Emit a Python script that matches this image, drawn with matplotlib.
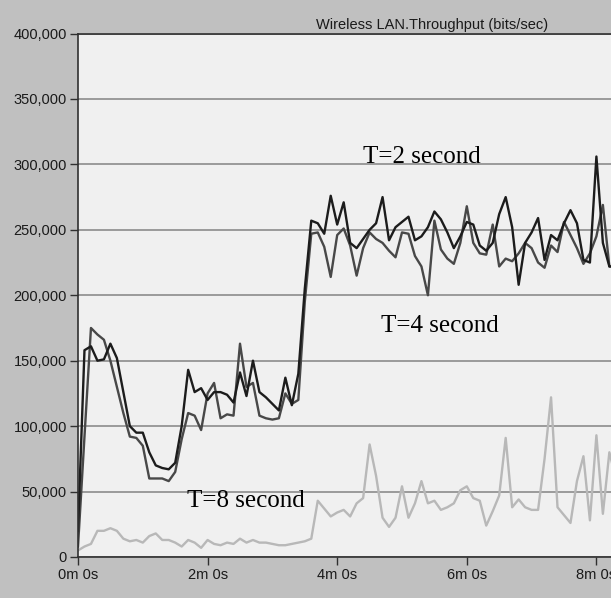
import numpy as np
import matplotlib
matplotlib.use("Agg")
import matplotlib.pyplot as plt
from matplotlib.ticker import FuncFormatter, MultipleLocator

# OPNET-style throughput export, one value per 6 s bucket
step_s = 6

t2_vals = [20, 158, 161, 150, 151, 163, 152, 126, 100, 95,
           95, 80, 70, 68, 67, 72, 100, 143, 126, 129,
           120, 126, 126, 124, 118, 141, 123, 150, 126, 122,
           117, 112, 137, 116, 140, 205, 257, 255, 247, 276,
           254, 271, 240, 236, 243, 250, 255, 275, 242, 252,
           256, 260, 242, 245, 252, 264, 258, 248, 236, 245,
           256, 254, 238, 234, 240, 262, 275, 252, 208, 240,
           248, 259, 227, 246, 242, 255, 265, 255, 227, 225,
           306, 240, 222, 222]

t4_vals = [8, 92, 175, 170, 166, 150, 130, 110, 92, 91,
           85, 60, 60, 60, 58, 65, 90, 110, 108, 97,
           125, 133, 106, 109, 108, 163, 130, 133, 108, 106,
           105, 106, 125, 117, 120, 195, 247, 248, 237, 214,
           246, 251, 238, 215, 236, 248, 243, 240, 234, 229,
           248, 247, 230, 222, 200, 257, 235, 228, 224, 240,
           268, 240, 232, 231, 254, 222, 228, 226, 232, 240,
           236, 225, 221, 238, 233, 256, 246, 236, 224, 232,
           245, 269, 222, 222]

t8_vals = [5, 8, 10, 20, 20, 22, 20, 14, 12, 13,
           11, 16, 18, 13, 13, 11, 8, 13, 11, 7,
           13, 10, 9, 11, 10, 14, 11, 13, 11, 11,
           10, 9, 9, 10, 11, 12, 14, 43, 37, 31,
           34, 36, 31, 41, 45, 86, 62, 30, 23, 30,
           54, 30, 41, 58, 41, 43, 36, 38, 41, 51,
           54, 45, 43, 24, 35, 47, 91, 38, 44, 38,
           36, 36, 75, 122, 38, 32, 26, 58, 77, 28,
           93, 33, 80, 60]

labels = ["T=2 second", "T=4 second", "T=8 second"]

t = np.arange(len(t2_vals)) * step_s
y2 = np.array(t2_vals) * 1000
y4 = np.array(t4_vals) * 1000
y8 = np.array(t8_vals) * 1000

fig = plt.figure(figsize=(6.11, 5.98), dpi=100)
fig.patch.set_facecolor("#c0c0c0")
ax = fig.add_axes([78 / 611, 41 / 598, 540 / 611, 523.5 / 598])
ax.set_facecolor("#f0f0f0")

ax.plot(t, y8, color="#b8b8b8", lw=1.7)
ax.plot(t, y4, color="#484848", lw=1.7)
ax.plot(t, y2, color="#1c1c1c", lw=1.7)

ax.set_xlim(0, 500)
ax.set_ylim(0, 400000)
ax.xaxis.set_major_locator(MultipleLocator(120))
ax.yaxis.set_major_locator(MultipleLocator(50000))
ax.xaxis.set_major_formatter(FuncFormatter(lambda s, p: "%dm %ds" % (s // 60, s % 60)))
ax.yaxis.set_major_formatter(FuncFormatter(lambda v, p: "{:,.0f}".format(v)))
ax.grid(axis="y", color="#8c8c8c", lw=1.2)
ax.set_axisbelow(True)

for s in ["left", "bottom", "top"]:
    ax.spines[s].set_color("#303030")
    ax.spines[s].set_linewidth(1.2)
ax.spines["right"].set_visible(False)
ax.tick_params(direction="out", length=6, width=1, color="#303030",
               labelsize=10.5, labelcolor="#1a1a1a", pad=2)
for lab in ax.get_xticklabels() + ax.get_yticklabels():
    lab.set_family("Liberation Sans")

serif = dict(family="Liberation Serif", fontsize=18, color="#000000", ha="center", va="baseline")
ax.text(318, 301000, labels[0], **serif)
ax.text(335, 172000, labels[1], **serif)
ax.text(155, 38500, labels[2], **serif)

fig.text(432.5 / 611, 1 - 29 / 598, "Wireless LAN.Throughput (bits/sec)",
         family="Liberation Sans", fontsize=10.5, color="#1a1a1a", ha="center", va="baseline")

fig.savefig("out.png", dpi=100, facecolor=fig.get_facecolor())
